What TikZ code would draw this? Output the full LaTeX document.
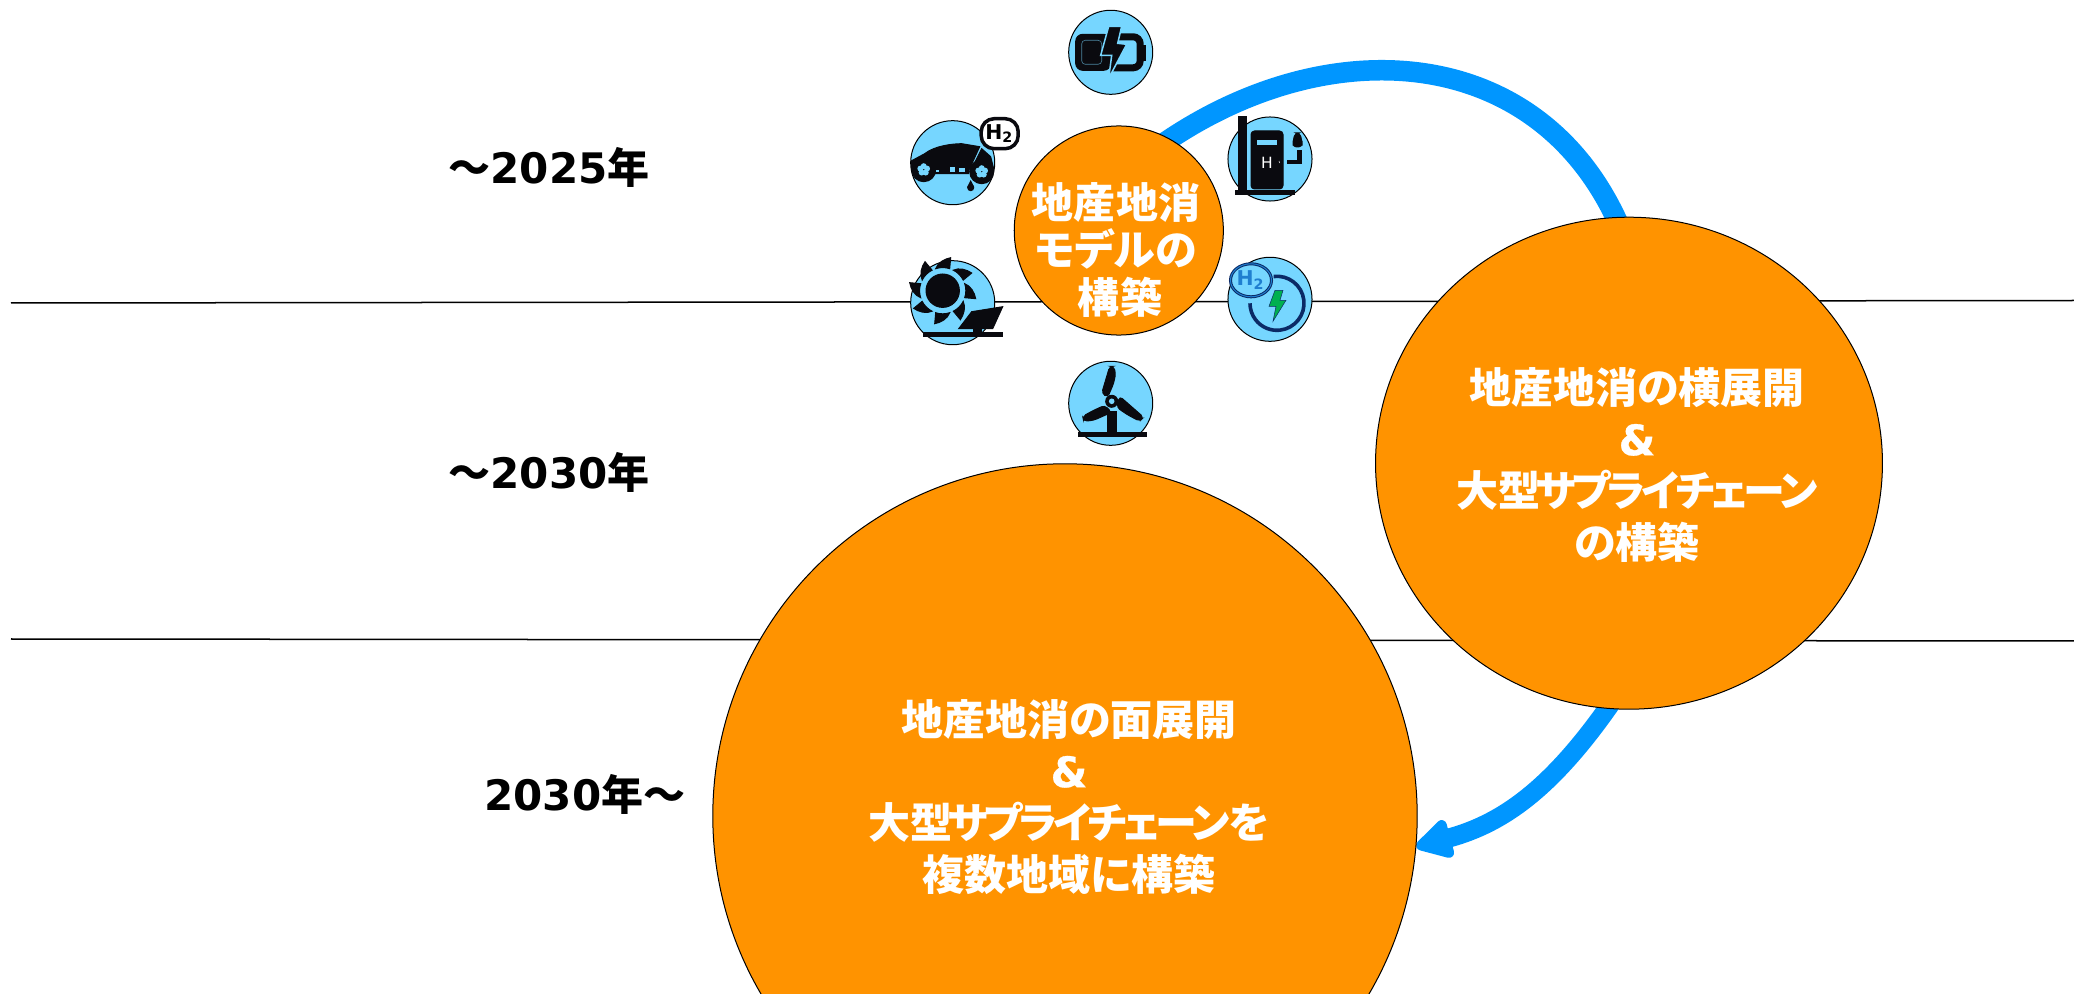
\documentclass[tikz,border=0pt]{standalone}
\usepackage{fontspec}
\usepackage{xcolor}
\usepackage{tikz}
\usetikzlibrary{shapes.geometric,arrows.meta,backgrounds}
\newfontfamily\jpfont{Noto Sans CJK JP}
\newfontfamily\kanafont{Noto Sans CJK JP}[RawFeature={+palt}]
\newfontfamily\tightfont{Noto Sans CJK JP}[RawFeature={+palt},LetterSpace=-9]
\newfontfamily\latinfont{DejaVu Sans}
\newfontfamily\ampfont{DejaVu Sans Bold}[FakeBold=.8]
\definecolor{tangerine}{HTML}{FF9300}
\definecolor{aqua}{HTML}{0096FF}
\definecolor{sky}{HTML}{76D6FF}
\definecolor{ink}{HTML}{0A0A0F}
\definecolor{navy}{HTML}{0B2A66}
\definecolor{hblue}{HTML}{1F7FD0}
\definecolor{boltgreen}{HTML}{00B050}
\tikzset{
	disc/.style={ellipse,draw=black,line width=.1mm,fill=tangerine,inner sep=0pt},
	icondisc/.style={circle,draw=black,line width=.1mm,fill=sky,inner sep=0pt,minimum size=8.4mm},
	caption/.style={text=white,align=center,font=\kanafont\bfseries\fontsize{11.95}{14.65}\selectfont},
	period/.style={text=black,font=\jpfont\bfseries\fontsize{11.95}{14.65}\selectfont},
	rule/.style={draw=black,line width=.15mm},
	flow/.style={draw=aqua,line width=2.05mm},
	inkfill/.style={fill=ink,draw=ink,line width=.1mm},
	hsign/.style={font=\latinfont\bfseries\fontsize{5.8}{6}\selectfont,inner sep=0pt}
}
\newcommand{\digits}[1]{{\latinfont\bfseries #1}}
\newcommand{\amp}{{\ampfont\&}}
\newcommand{\chain}{\kern-.5mm{\tightfont\bfseries サプライチェーン}}
\begin{document}
\begin{tikzpicture}[x=.01cm,y=-.01cm]
	\useasboundingbox (0,0) rectangle (2074,994);
	\clip (0,0) rectangle (2074,994);
	% main circles
	\node[disc,minimum width=20.9mm,minimum height=20.9mm] (hub) at (1118.8,230.5) {};
	\node[disc,minimum width=50.66mm,minimum height=49.17mm] (mid) at (1629,463.2) {};
	\node[disc,minimum width=70.4mm,minimum height=70.4mm] (big) at (1065,816) {};
	\node[caption,font=\kanafont\bfseries\fontsize{11.95}{13.4}\selectfont] (hubtext) at (1116,250) {地産地消\\モデルの\\\hspace*{.8mm}構築};
	\node[caption] (midtext) at (1637,465) {地産地消の横展開\\\amp\\大型\chain\\の構築};
	\node[caption] (bigtext) at (1069,797) {地産地消の面展開\\\amp\\大型\chain を\\複数地域に構築};
	% periods
	\node[period] (first) at (549,167) {～\digits{2025}年};
	\node[period] (second) at (549,472) {～\digits{2030}年};
	\node[period] (third) at (585,794) {\digits{2030}年～};
	% small circles
	\node[icondisc] (battery) at (1110.7,52.3) {};
	\node[icondisc] (car) at (952.7,162.7) {};
	\node[icondisc] (pump) at (1270,159) {};
	\node[icondisc] (solar) at (952.7,302.7) {};
	\node[icondisc] (charge) at (1270,299.3) {};
	\node[icondisc] (wind) at (1110.7,403.3) {};
	\coordinate (ruleAa) at (11,303);
	\coordinate (ruleAb) at (2074,300.5);
	\coordinate (ruleBa) at (11,639);
	\coordinate (ruleBb) at (2074,641);
	\begin{scope}[on background layer]
		\draw[rule] (ruleAa) -- (ruleAb);
		\draw[rule] (ruleBa) -- (ruleBb);
		\draw[flow,shorten <=-2mm,shorten >=-2mm] (hub.61.7) to[out=36,in=112,looseness=1.08] (mid.93);
		\draw[flow,line width=1.9mm,shorten <=-2mm,-{Triangle[length=4.1mm,width=4.3mm,round]}] (mid.265) to[out=236,in=15] (big.-5.2);
	\end{scope}
	% battery
	\begin{scope}[shift={(battery.center)}]
		\path[inkfill,rounded corners=2pt] (-35,-18) rectangle (0,18);
		\draw[sky!60!ink,line width=.06mm,rounded corners=1pt] (-29,-12) rectangle (-9,12);
		\draw[ink,line width=.7mm,rounded corners=2pt] (8,-15.5) -- (29.5,-15.5) -- (29.5,15.5) -- (0,15.5);
		\path[inkfill] (32,-7) rectangle (35,8);
		\filldraw[fill=ink,draw=sky,line width=.15mm] (-2,-26) -- (11,-26) -- (7,-9) -- (16,-8) -- (-2,26) -- (1,3) -- (-10,3) -- cycle;
	\end{scope}
	% car
	\begin{scope}[shift={(car.center)}]
		\path[inkfill] (-41,-2) -- (-28,-9) .. controls (-18,-17) and (0,-19) .. (9,-19) -- (27,-16) -- (16,8) -- (16,11) -- (-20,11) -- (-30,16) -- (-37,14) -- (-41,6) -- cycle;
		\path[inkfill] (29,-14) -- (38,-6) -- (41,6) -- (36,14) -- (26,19) -- (19,14) -- (18,8) -- cycle;
		\path[inkfill] (-29,7) circle (12);
		\path[inkfill] (29,9) circle (12);
		\foreach \a in {18,90,162,234,306} {
			\fill[sky] (-29,7) ++(\a:.35mm) circle (3);
			\fill[sky] (29,9) ++(\a:.35mm) circle (3);
		}
		\fill[sky] (-3,4) rectangle (2,9);
		\fill[sky] (6,5) rectangle (12,9);
		\fill[sky] (-17,7) rectangle (-14,9);
		\path[inkfill] (18,25) circle (3);
		\path[inkfill] (18,18.5) -- (15.2,24) -- (20.8,24) -- cycle;
		\node[draw=ink,fill=white,line width=.35mm,rounded corners=1.3mm,minimum width=3.7mm,minimum height=3mm,hsign] (carbubble) at (47,-29) {H\textsubscript{2}};
	\end{scope}
	% pump
	\begin{scope}[shift={(pump.center)}]
		\path[inkfill] (-32,-42) rectangle (-24,33);
		\path[inkfill] (-35,32) rectangle (24,36);
		\path[inkfill,rounded corners=1pt] (-19,-28) rectangle (13,30);
		\fill[sky] (-13,-19) rectangle (7,-14);
		\node[hsign,text=white,font=\latinfont\fontsize{4.4}{5}\selectfont] (pumpmark) at (-3,4) {H};
		\draw[white,line width=.05mm] (9,2) -- (9.6,4);
		\path[inkfill,rounded corners=1pt] (23,-17) -- (25,-26) -- (30,-26) -- (32,-17) -- (32,-12) -- (23,-12) -- cycle;
		\path[inkfill] (27,-8) rectangle (31,5);
		\path[inkfill] (17,2) rectangle (31,5);
	\end{scope}
	% sun and panel
	\begin{scope}[shift={(solar.center)}]
		\path[inkfill] (-10,-12) circle (16.7);
		\foreach \a in {0,45,...,315} {
			\path[inkfill,shift={(-10,-12)},rotate=\a] (22,-7) .. controls (23.5,-3) and (23.5,3) .. (22,7) -- (33,8) .. controls (32,2) and (28,-5) .. (22,-7) -- cycle;
		}
		\path[inkfill] (19,9) -- (50,4) -- (40,26) -- (6,26) -- cycle;
		\path[inkfill] (21,26) rectangle (29,30);
		\path[inkfill] (-29,30) rectangle (50,34);
	\end{scope}
	% hydrogen charge
	\begin{scope}[shift={(charge.center)}]
		\draw[navy,line width=.36mm] (7,4) ++(97:.27cm) arc[start angle=97,end angle=-180,radius=.27cm];
		\filldraw[fill=boltgreen,draw=navy,line width=.05mm] (5,-9) -- (13,-9) -- (10,1) -- (16,1) -- (3,22) -- (6,7) -- (-1,7) -- cycle;
		\node[ellipse,draw=navy,double=hblue,double distance=.1mm,fill=sky,line width=.1mm,inner sep=0pt,minimum width=4.1mm,minimum height=3.3mm,hsign,text=hblue] (chargebubble) at (-19,-19) {H\textsubscript{2}};
	\end{scope}
	% turbine
	\begin{scope}[shift={(wind.center)}]
		\path[inkfill] (-3,8) rectangle (6,30);
		\path[inkfill] (-32,29) rectangle (36,33);
		\path[inkfill,rounded corners=1pt] (3,-37) -- (-1,-37) -- (-9,-10) -- (-3,-6) -- (3,-20) -- (5,-30) -- cycle;
		\path[inkfill,rounded corners=1pt] (9,-7) -- (33,14) -- (29,18) -- (16,11) -- (6,4) -- cycle;
		\path[inkfill,rounded corners=1pt] (-28,13) -- (-17,7) -- (-6,2) -- (1,9) -- (-17,17) -- (-27,18) -- cycle;
		\path[inkfill] (1,-2) circle (6);
		\fill[sky] (1,-2) circle (2.8);
	\end{scope}
\end{tikzpicture}
\end{document}
